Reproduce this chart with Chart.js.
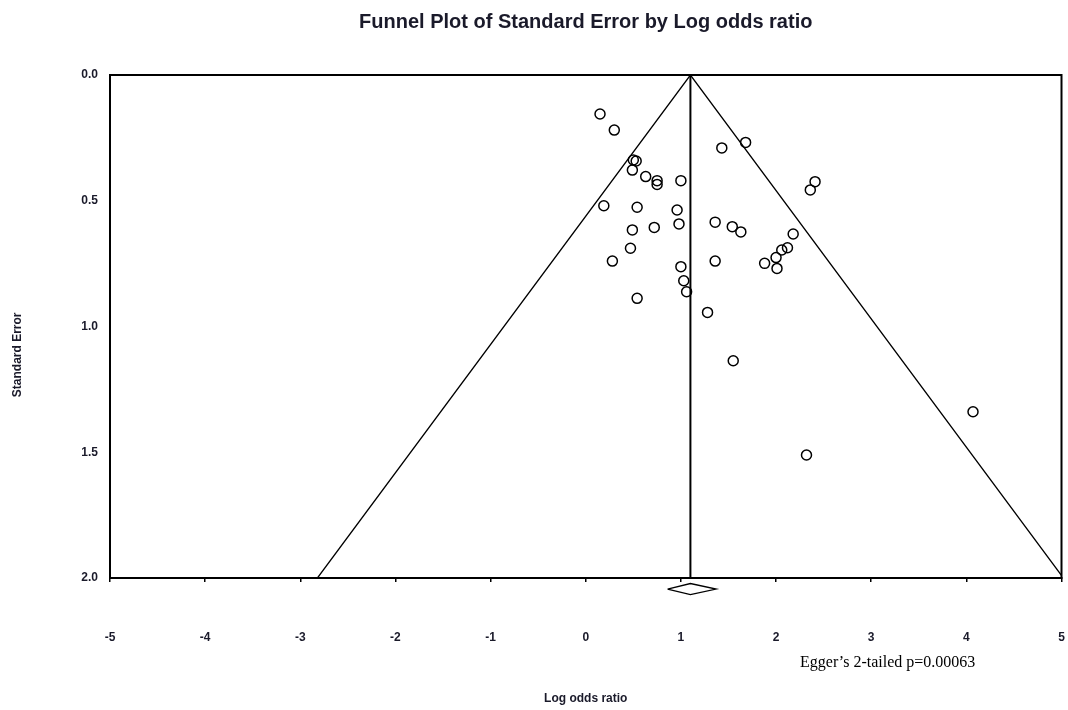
<!DOCTYPE html>
<html>
<head>
<meta charset="utf-8">
<script src="https://cdn.jsdelivr.net/npm/chart.js@4/dist/chart.umd.min.js"></script>
<style>
  html, body { margin: 0; padding: 0; background: #fff; overflow: hidden; }
  #wrap { width: 1068px; height: 710px; position: relative; }
  canvas { display: block; }
</style>
</head>
<body>
<div id="wrap"><canvas id="funnel"></canvas></div>
<script>
// Study estimates
const logOddsRatio = [0.15, 0.30, 0.53, 0.50, 0.49, 0.63, 0.75, 0.75, 1.00, 0.19,
  0.54, 0.96, 0.98, 0.49, 0.72, 0.47, 0.28, 1.00, 1.03, 1.06,
  0.54, 1.28, 1.55, 1.43, 1.68, 2.41, 2.36, 1.36, 1.54, 1.63,
  2.18, 2.12, 2.06, 2.00, 2.01, 1.88, 1.36, 4.07, 2.32];
const standardError = [0.155, 0.219, 0.342, 0.338, 0.378, 0.404, 0.420, 0.435, 0.420, 0.520,
  0.526, 0.537, 0.592, 0.616, 0.606, 0.689, 0.740, 0.762, 0.818, 0.862,
  0.888, 0.944, 1.136, 0.290, 0.268, 0.424, 0.457, 0.585, 0.603, 0.624,
  0.632, 0.687, 0.696, 0.726, 0.769, 0.749, 0.740, 1.339, 1.511];

// Pooled estimate and its confidence interval (diamond)
const pooledEstimate = 1.10;
const pooledLower = 0.86;
const pooledUpper = 1.37;

const xTicks = [-5, -4, -3, -2, -1, 0, 1, 2, 3, 4, 5];
const yTicks = [0.0, 0.5, 1.0, 1.5, 2.0];
const maxSE = 2.0;

const FONT = "'Liberation Sans', Arial, sans-serif";
const INK = '#1a1a2a';

const points = logOddsRatio.map((x, i) => ({ x: x, y: standardError[i] }));

// Funnel limits (pseudo 95% CI) and the pooled line
const funnel = [
  { x: pooledEstimate - 1.96 * maxSE, y: maxSE },
  { x: pooledEstimate, y: 0 },
  { x: pooledEstimate + 1.96 * maxSE, y: maxSE }
];
const centerLine = [{ x: pooledEstimate, y: 0 }, { x: pooledEstimate, y: maxSE }];

// diamond sits just under the axis
const dMid = 2.044, dHalf = 0.022;
const diamond = [
  { x: pooledLower, y: dMid },
  { x: pooledEstimate, y: dMid - dHalf },
  { x: pooledUpper, y: dMid },
  { x: pooledEstimate, y: dMid + dHalf },
  { x: pooledLower, y: dMid }
];

const frame = {
  id: 'frame',
  afterDatasetsDraw(chart) {
    const { ctx, chartArea: a } = chart;
    ctx.save();
    ctx.strokeStyle = '#000';
    ctx.lineWidth = 2;
    ctx.strokeRect(a.left, a.top, a.right - a.left, a.bottom - a.top);
    ctx.restore();
  },
  afterDraw(chart) {
    const { ctx } = chart;
    ctx.save();
    ctx.fillStyle = '#000';
    ctx.font = "16px 'Liberation Serif', 'Times New Roman', serif";
    ctx.textBaseline = 'middle';
    ctx.fillText('Egger\u2019s 2-tailed p=0.00063', 800, 663);
    ctx.restore();
  }
};

new Chart(document.getElementById('funnel'), {
  type: 'scatter',
  data: {
    datasets: [
      {
        type: 'line', data: funnel, borderColor: '#000', borderWidth: 1.3,
        pointRadius: 0, fill: false, tension: 0
      },
      {
        type: 'line', data: centerLine, borderColor: '#000', borderWidth: 2,
        pointRadius: 0, fill: false
      },
      {
        type: 'line', data: diamond, borderColor: '#000', borderWidth: 1.3,
        pointRadius: 0, fill: false, clip: false
      },
      {
        data: points, pointStyle: 'circle', pointRadius: 5,
        backgroundColor: 'rgba(0,0,0,0)', borderColor: '#000', borderWidth: 1.5
      }
    ]
  },
  options: {
    responsive: true,
    maintainAspectRatio: false,
    animation: false,
    layout: { padding: { top: 0, left: 0, right: 6, bottom: 0 } },
    plugins: {
      legend: { display: false },
      tooltip: { enabled: false },
      title: {
        display: true,
        fullSize: false,
        text: 'Funnel Plot of Standard Error by Log odds ratio',
        color: INK,
        font: { family: FONT, size: 20, weight: 'bold', lineHeight: 1.2 },
        padding: { top: 10, bottom: 41 }
      }
    },
    scales: {
      x: {
        type: 'linear', min: -5, max: 5,
        afterBuildTicks: s => { s.ticks = xTicks.map(v => ({ value: v })); },
        afterFit: s => { s.height = 132; s.paddingLeft = 0; s.paddingRight = 0; },
        grid: { display: true, drawOnChartArea: false, drawTicks: true, tickLength: 4, color: '#000', lineWidth: 1.5 },
        border: { display: true, color: '#000', width: 2 },
        ticks: { color: INK, padding: 48, font: { family: FONT, size: 12, weight: 'bold' } },
        title: {
          display: true, text: 'Log odds ratio', color: INK,
          font: { family: FONT, size: 12, weight: 'bold', lineHeight: 1.1 },
          padding: { top: 0, bottom: 5 }
        }
      },
      y: {
        type: 'linear', min: 0, max: maxSE, reverse: true,
        afterBuildTicks: s => { s.ticks = yTicks.map(v => ({ value: v })); },
        afterFit: s => { s.width = 110; },
        grid: { display: false, drawTicks: false },
        border: { display: true, color: '#000', width: 2 },
        ticks: {
          color: INK, padding: 12,
          font: { family: FONT, size: 12, weight: 'bold' },
          callback: v => Number(v).toFixed(1)
        },
        title: {
          display: true,
          // trailing spaces push the label a little below the plot's middle, as in the original
          text: 'Standard Error' + '\u00a0'.repeat(17),
          color: INK,
          font: { family: FONT, size: 12, weight: 'bold', lineHeight: 1.1 },
          padding: { top: 11, bottom: 0 }
        }
      }
    }
  },
  plugins: [frame]
});
</script>
</body>
</html>
